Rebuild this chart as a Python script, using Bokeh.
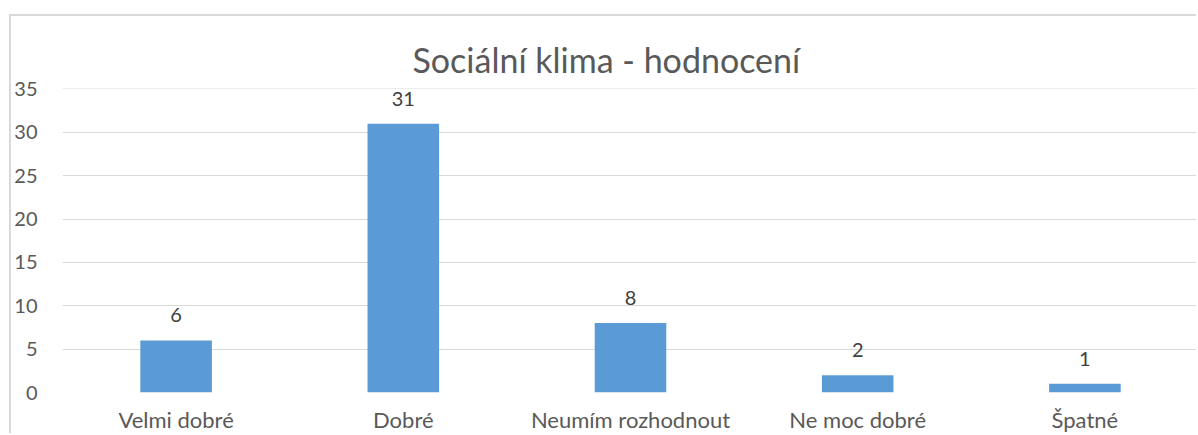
from bokeh.plotting import figure
from bokeh.models import ColumnDataSource, Range1d, FactorRange, SingleIntervalTicker
from bokeh.core.properties import value
from bokeh.embed import file_html
from bokeh.resources import INLINE

categories = ["Velmi dobré", "Dobré", "Neumím rozhodnout", "Ne moc dobré", "Špatné"]
counts = [6, 31, 8, 2, 1]
labels = [str(c) for c in counts]

FONT = "Lato"
TXT = "#595959"

src = ColumnDataSource(dict(cat=categories, val=counts, lab=labels))

p = figure(
    x_range=FactorRange(*categories, range_padding=0),
    y_range=Range1d(0, 35.05),
    width=1187, height=419,
    output_backend="svg", toolbar_location=None,
    title="Sociální klima - hodnocení",
    min_border_left=44, min_border_right=0, min_border_top=72, min_border_bottom=43,
)
p.styles = {"margin-top": "14px", "margin-left": "9px",
            "border-left": "2px solid #d9d9d9", "border-top": "2px solid #d9d9d9"}

p.title.align = "left"
p.title.offset = 350
p.title.text_font = FONT
p.title.text_font_size = "34px"
p.title.text_font_style = "normal"
p.title.text_color = TXT
p.title.standoff = 17

p.vbar(x="cat", top="val", width=0.315, source=src, fill_color="#5B9BD5", line_color=None)
p.text(x="cat", y="val", text="lab", source=src, text_align="center", text_baseline="middle",
       y_offset=-25, text_font=value(FONT), text_font_size="20px", text_color="#404040")

p.outline_line_color = None
p.background_fill_color = "white"
p.border_fill_color = "white"

p.xgrid.grid_line_color = None
p.ygrid.grid_line_color = "#d9d9d9"
p.ygrid.grid_line_width = 1

p.yaxis.ticker = SingleIntervalTicker(interval=5)
p.yaxis.axis_line_color = None
p.yaxis.major_tick_line_color = None
p.yaxis.minor_tick_line_color = None
p.yaxis.major_label_standoff = 19
p.yaxis.major_label_text_font = FONT
p.yaxis.major_label_text_font_size = "20px"
p.yaxis.major_label_text_color = TXT

p.xaxis.axis_line_color = None
p.xaxis.major_tick_line_color = None
p.xaxis.minor_tick_line_color = None
p.xaxis.major_label_standoff = 7
p.xaxis.major_label_text_font = FONT
p.xaxis.major_label_text_font_size = "22px"
p.xaxis.major_label_text_color = TXT

open("out.html", "w").write(file_html(p, INLINE))
